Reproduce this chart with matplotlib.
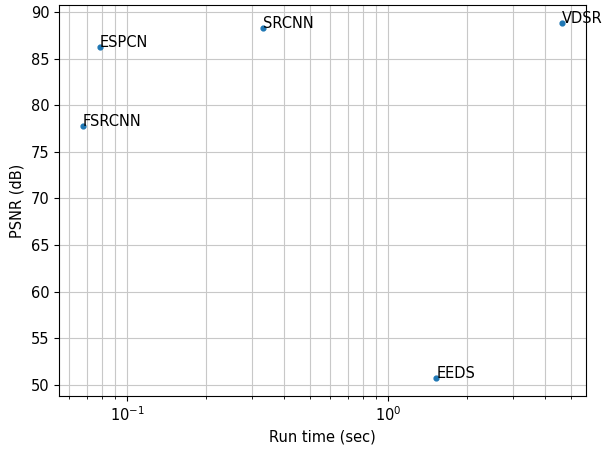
import matplotlib
matplotlib.use("Agg")
import matplotlib.pyplot as plt

models = ["FSRCNN", "ESPCN", "SRCNN", "EEDS", "VDSR"]
run_time = [0.0677, 0.0785, 0.3315, 1.53, 4.63]
psnr = [77.76, 86.25, 88.29, 50.7, 88.86]

plt.rcParams["font.size"] = 10.5
fig = plt.figure(figsize=(6.02, 4.54), dpi=100)
ax = fig.add_axes([59/602, (454-396)/454, (586-59)/602, (396-5)/454])
ax.scatter(run_time, psnr, s=12, zorder=3)
for name, x, y in zip(models, run_time, psnr):
    ax.annotate(name, (x, y))
ax.set_xscale("log")
ax.grid(True, which="both", color="#c8c8c8")
ax.set_xlabel("Run time (sec)")
ax.set_ylabel("PSNR (dB)")
fig.savefig("out.png", dpi=100)
